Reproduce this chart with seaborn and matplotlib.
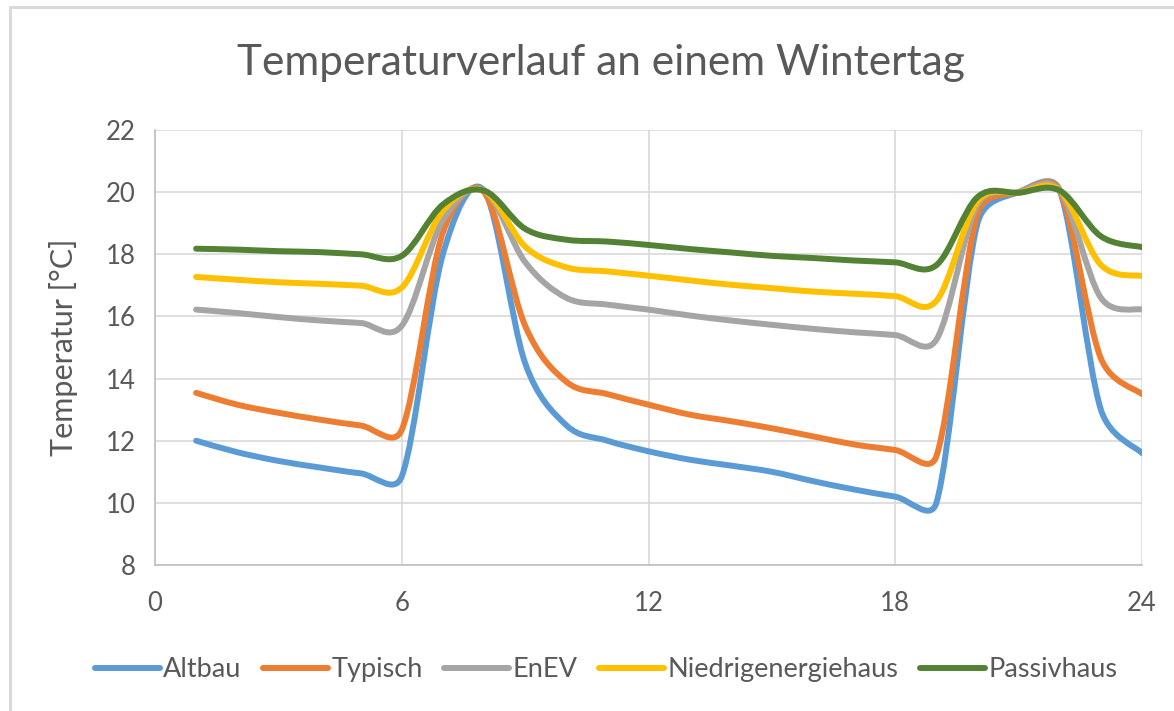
import matplotlib
matplotlib.use("Agg")
import matplotlib.pyplot as plt
from matplotlib.path import Path
from matplotlib.patches import PathPatch
from matplotlib.lines import Line2D
import seaborn as sns
import pandas as pd
import numpy as np

# Hourly indoor temperatures (°C)
hours = list(range(1, 25))
altbau = [12.0, 11.63, 11.35, 11.14, 10.95, 10.85, 18.0, 20.05, 14.5, 12.5, 12.0, 11.66,
          11.39, 11.2, 11.0, 10.7, 10.43, 10.2, 10.0, 19.0, 20.0, 20.05, 13.0, 11.6]
typisch = [13.54, 13.16, 12.9, 12.68, 12.49, 12.35, 18.7, 20.0, 15.7, 13.9, 13.5, 13.16,
           12.84, 12.63, 12.4, 12.14, 11.88, 11.7, 11.5, 19.3, 20.0, 20.05, 14.65, 13.5]
enev = [16.22, 16.11, 15.98, 15.87, 15.79, 15.7, 19.1, 20.05, 17.75, 16.6, 16.38, 16.22,
        16.03, 15.87, 15.73, 15.6, 15.49, 15.4, 15.25, 19.6, 20.0, 20.05, 16.6, 16.22]
niedrig = [17.27, 17.18, 17.1, 17.05, 16.99, 16.93, 19.4, 20.05, 18.25, 17.58, 17.45, 17.31,
           17.16, 17.02, 16.91, 16.8, 16.73, 16.65, 16.5, 19.7, 19.98, 20.05, 17.66, 17.3]
passiv = [18.18, 18.15, 18.1, 18.07, 18.0, 17.95, 19.6, 20.05, 18.82, 18.47, 18.41, 18.3,
          18.17, 18.06, 17.95, 17.88, 17.8, 17.74, 17.65, 19.84, 19.98, 20.05, 18.58, 18.23]

series_names = ["Altbau", "Typisch", "EnEV", "Niedrigenergiehaus", "Passivhaus"]
series_values = [altbau, typisch, enev, niedrig, passiv]
colors = ["#5B9BD5", "#ED7D31", "#A5A5A5", "#FFC000", "#548235"]

x_ticks = [0, 6, 12, 18, 24]
y_ticks = list(range(8, 23, 2))

df = pd.concat(
    [pd.DataFrame({"Stunde": hours, "Temperatur": v, "Gebäude": n})
     for n, v in zip(series_names, series_values)],
    ignore_index=True,
)

sns.set_theme(style="white")
plt.rcParams["font.family"] = ["Lato", "DejaVu Sans"]
text_color = "#595959"
grid_color = "#d9d9d9"

# pixel size of one data unit, used to limit the smoothing handles on screen
PX = np.array([987 / 24, 435 / 14])


def smooth_path(xs, ys, t=1 / 6, limit=0.5):
    # spreadsheet-style smoothed line: Catmull-Rom Bezier segments through the
    # data points, handles capped at half the segment length on screen
    p = np.column_stack([xs, ys]).astype(float)
    n = len(p)

    def handle(vec, seg):
        h = vec * t
        h_len = np.hypot(*(h * PX))
        seg_len = np.hypot(*(seg * PX))
        if h_len > limit * seg_len:
            h = h * (limit * seg_len / h_len)
        return h

    verts = [tuple(p[0])]
    codes = [Path.MOVETO]
    for i in range(n - 1):
        p0 = p[i - 1] if i > 0 else p[i]
        p1, p2 = p[i], p[i + 1]
        p3 = p[i + 2] if i + 2 < n else p[i + 1]
        c1 = p1 + handle(p2 - p0, p2 - p1)
        c2 = p2 - handle(p3 - p1, p2 - p1)
        verts += [tuple(c1), tuple(c2), tuple(p2)]
        codes += [Path.CURVE4] * 3
    return Path(verts, codes)


fig = plt.figure(figsize=(11.74, 7.11), dpi=100)
ax = fig.add_axes([155 / 1174, 146 / 711, 987 / 1174, 435 / 711])

sns.lineplot(data=df, x="Stunde", y="Temperatur", hue="Gebäude",
             hue_order=series_names, palette=colors, linewidth=4,
             legend=False, ax=ax)

# Replace the straight segments by smoothed curves
for line in list(ax.lines):
    xy = line.get_xydata()
    if len(xy) > 1:
        patch = PathPatch(smooth_path(xy[:, 0], xy[:, 1]), fill=False,
                          edgecolor=line.get_color(), lw=4.3, capstyle="round",
                          joinstyle="round", zorder=3)
        ax.add_patch(patch)
    line.remove()

ax.set_xlim(0, 24)
ax.set_ylim(8, 22)
ax.set_xticks(x_ticks)
ax.set_yticks(y_ticks)
ax.grid(True, color=grid_color, linewidth=1.2)
ax.set_axisbelow(True)
for side in ["top", "right"]:
    ax.spines[side].set_visible(False)
for side in ["left", "bottom"]:
    ax.spines[side].set_color("#bfbfbf")
    ax.spines[side].set_linewidth(1.2)
ax.tick_params(axis="both", length=0, labelsize=18.5, labelcolor=text_color)
ax.tick_params(axis="x", pad=19)
ax.tick_params(axis="y", pad=14)
ax.set_xlabel("")
ax.set_ylabel("Temperatur [°C]", fontsize=22, color=text_color)
ax.yaxis.set_label_coords(-0.078, 0.5)

handles = [Line2D([], [], color=c, lw=4.3, solid_capstyle="round") for c in colors]
ax.legend(handles, series_names, loc="center", bbox_to_anchor=(0.457, -0.241),
          ncol=5, frameon=False, fontsize=19.5, handlelength=2.4,
          handletextpad=0.12, columnspacing=0.8, labelcolor=text_color)

fig.text(601 / 1174, 1 - 63 / 711, "Temperaturverlauf an einem Wintertag",
         ha="center", va="center", fontsize=30.5, color=text_color)

# light chart-area frame (left and top edges)
fig.add_artist(Line2D([9.5 / 1174, 9.5 / 1174], [0, 1 - 6.5 / 711],
                      transform=fig.transFigure, color=grid_color, lw=2.2))
fig.add_artist(Line2D([9.5 / 1174, 1], [1 - 6.5 / 711, 1 - 6.5 / 711],
                      transform=fig.transFigure, color=grid_color, lw=2.2))

fig.savefig("out.png", dpi=100)
